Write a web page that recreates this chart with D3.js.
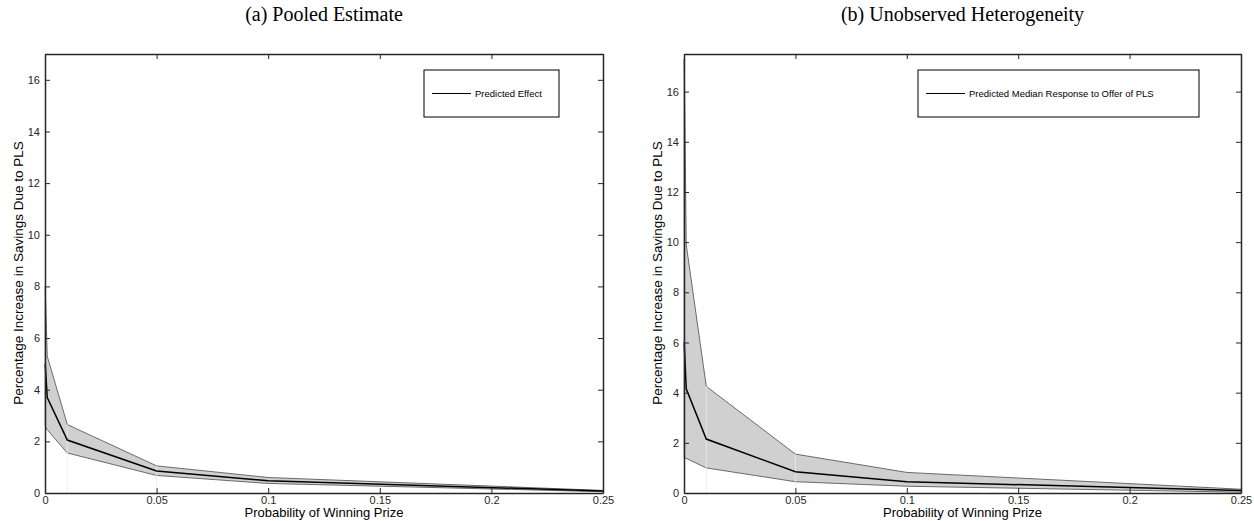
<!DOCTYPE html>
<html><head><meta charset="utf-8">
<script src="https://cdn.jsdelivr.net/npm/d3@7"></script>
<style>body{margin:0;background:#fff}svg{display:block}</style>
</head><body>
<svg id="c" width="1254" height="521"></svg>
<script>
// ---- data ----
const probs = [0.0001, 0.001, 0.01, 0.05, 0.1, 0.25];
const pooledMedian = [5.0, 3.7, 2.05, 0.85, 0.47, 0.08];
const pooledUpper  = [8.0, 5.3, 2.65, 1.05, 0.60, 0.10];
const pooledLower  = [2.6, 2.45, 1.55, 0.68, 0.37, 0.05];
const hetMedian = [6.0, 4.15, 2.15, 0.85, 0.45, 0.10];
const hetUpper  = [17.3, 9.9, 4.25, 1.55, 0.82, 0.15];
const hetLower  = [1.4, 1.38, 1.0, 0.45, 0.27, 0.03];
const xTicks = [0, 0.05, 0.1, 0.15, 0.2, 0.25];
const yTicks = [0, 2, 4, 6, 8, 10, 12, 14, 16];
const titles = ["(a) Pooled Estimate", "(b) Unobserved Heterogeneity"];
const legendLabels = ["Predicted Effect", "Predicted Median Response to Offer of PLS"];
const xLabel = "Probability of Winning Prize";
const yLabel = "Percentage Increase in Savings Due to PLS";

const svg = d3.select("#c");
const AX = "#262626";

const panels = [
  {x0:45, x1:603, y0:54, y1:493, ymax:17, med:pooledMedian, up:pooledUpper, lo:pooledLower,
   title:titles[0], leg:legendLabels[0], legBox:[424,70,559,117], ylabX:18},
  {x0:684, x1:1241, y0:54, y1:493, ymax:17.5, med:hetMedian, up:hetUpper, lo:hetLower,
   title:titles[1], leg:legendLabels[1], legBox:[918,70,1199,117], ylabX:657}
];

panels.forEach(p => {
  const x = d3.scaleLinear().domain([0,0.25]).range([p.x0,p.x1]);
  const y = d3.scaleLinear().domain([0,p.ymax]).range([p.y1,p.y0]);
  const g = svg.append("g");
  const pts = probs.map((v,i)=>({x:v, m:p.med[i], u:p.up[i], l:p.lo[i]}));

  // band
  g.append("path").datum(pts)
    .attr("d", d3.area().x(d=>x(d.x)).y0(d=>y(d.l)).y1(d=>y(d.u)))
    .attr("fill","#d0d0d0").attr("stroke","#6a6a6a").attr("stroke-width",1);
  // faint vertical artifacts
  pts.slice(2,4).forEach(d=>{
    g.append("line").attr("x1",x(d.x)).attr("x2",x(d.x)).attr("y1",y(0)).attr("y2",y(d.u))
      .attr("stroke","#ececec").attr("stroke-width",0.8);
  });
  // median line
  g.append("path").datum(pts)
    .attr("d", d3.line().x(d=>x(d.x)).y(d=>y(d.m)))
    .attr("fill","none").attr("stroke","#000").attr("stroke-width",1.5);

  // axes
  const fs = "11px 'Liberation Sans', Arial, sans-serif";
  const bottom = g.append("g").attr("transform",`translate(0,${p.y1})`)
    .call(d3.axisBottom(x).tickValues(xTicks).tickSizeInner(-5).tickSizeOuter(0).tickPadding(3).tickFormat(d=>d3.format("")(d)));
  const left = g.append("g").attr("transform",`translate(${p.x0},0)`)
    .call(d3.axisLeft(y).tickValues(yTicks).tickSizeInner(-5).tickSizeOuter(0).tickPadding(5));
  const top = g.append("g").attr("transform",`translate(0,${p.y0})`)
    .call(d3.axisTop(x).tickValues(xTicks).tickSizeInner(-5).tickSizeOuter(0).tickFormat(""));
  const right = g.append("g").attr("transform",`translate(${p.x1},0)`)
    .call(d3.axisRight(y).tickValues(yTicks).tickSizeInner(-5).tickSizeOuter(0).tickFormat(""));
  [bottom,left,top,right].forEach(a=>{
    a.selectAll("path.domain").attr("stroke",AX).attr("stroke-width",1.5);
    a.selectAll(".tick line").attr("stroke",AX).attr("stroke-width",1);
    a.selectAll(".tick text").attr("fill",AX).style("font", fs);
  });

  // labels
  g.append("text").attr("x",(p.x0+p.x1)/2).attr("y",517).attr("text-anchor","middle")
    .style("font","13px 'Liberation Sans', Arial, sans-serif").attr("fill","#000").text(xLabel);
  g.append("text").attr("transform",`translate(${p.ylabX},273) rotate(-90)`)
    .attr("text-anchor","middle").attr("dy","0.35em")
    .style("font","13.5px 'Liberation Sans', Arial, sans-serif").attr("fill","#000").text(yLabel);
  g.append("text").attr("x",(p.x0+p.x1)/2).attr("y",21).attr("text-anchor","middle")
    .style("font","20px 'Liberation Serif', 'DejaVu Serif', serif").attr("fill","#000").text(p.title);

  // legend
  const [bx0,by0,bx1,by1] = p.legBox;
  g.append("rect").attr("x",bx0).attr("y",by0).attr("width",bx1-bx0).attr("height",by1-by0)
    .attr("fill","#fff").attr("stroke","#000").attr("stroke-width",1);
  const ly = (by0+by1)/2;
  g.append("line").attr("x1",bx0+8).attr("x2",bx0+47).attr("y1",ly).attr("y2",ly)
    .attr("stroke","#000").attr("stroke-width",1);
  g.append("text").attr("x",bx0+51).attr("y",ly).attr("dy","0.35em")
    .style("font","9.5px 'Liberation Sans', Arial, sans-serif").attr("fill","#000").text(p.leg);
});
</script>
</body></html>
